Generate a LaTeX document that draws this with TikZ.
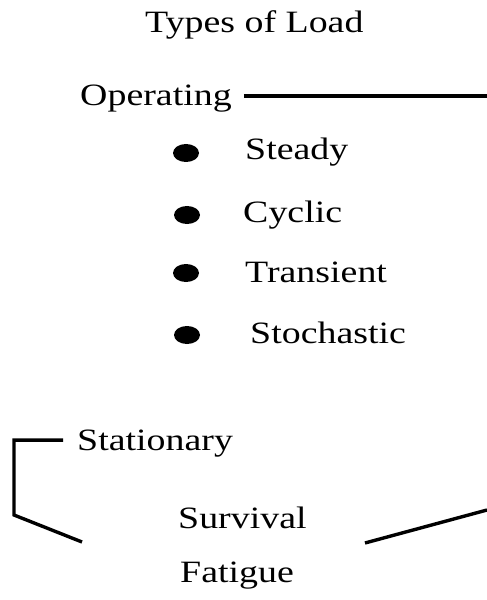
\documentclass[tikz,border=0pt]{standalone}
\usepackage{fontspec}
\setmainfont{Liberation Serif}[FakeStretch=1.22]
\usetikzlibrary{shapes.geometric}

\begin{document}
\begin{tikzpicture}[x=0.03cm,y=-0.03cm,
  lbl/.style={anchor=base west,inner sep=0pt,font=\fontsize{26.5}{30}\selectfont},
  dot/.style={ellipse,fill=black,inner sep=0pt,minimum width=0.78cm,minimum height=0.54cm},
  thickline/.style={line width=2.9pt}]
\useasboundingbox (0,0) rectangle (487,600);
\node[lbl] (title) at (145,33) {Types of Load};
\node[lbl] (op) at (80,106) {Operating};
\coordinate (opend) at (487,0);
\draw[thickline] ([xshift=0.36cm,yshift=0.09cm]op.east) -- ([yshift=0.09cm]op.east -| opend);
\foreach \name/\txt/\bx/\by/\tx/\ty in {steady/Steady/186/153/245/160,
    cyclic/Cyclic/187/215/243/223, transient/Transient/186/273/245/282,
    stochastic/Stochastic/187/335/250/343}
{
  \node[dot] (b-\name) at (\bx,\by) {};
  \node[lbl] (\name) at (\tx,\ty) {\txt};
}
\node[lbl] (stat) at (77,450) {Stationary};
\coordinate (brbot) at (14,515);
\coordinate (brend) at (82,542);
\draw[thickline] ([xshift=-0.42cm,yshift=0.09cm]stat.west) -| (brbot) -- (brend);
\node[lbl] (surv) at (178,528) {Survival};
\node[lbl] (fat) at (180,582) {Fatigue};
\coordinate (rlow) at (365,543);
\coordinate (rhigh) at (487,510);
\draw[thickline] (rlow) -- (rhigh);
\end{tikzpicture}
\end{document}
